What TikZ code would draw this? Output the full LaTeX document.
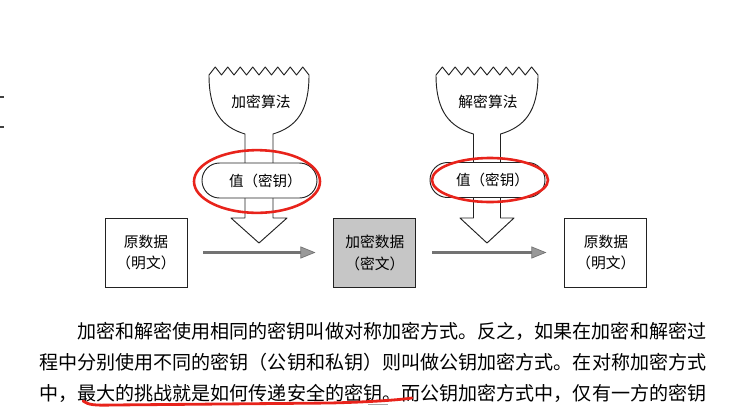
\documentclass[tikz,border=0pt]{standalone}
\usepackage{fontspec}
\setmainfont{Noto Sans CJK SC}
\usepackage{xcolor}
\usepackage{tikz}
\usetikzlibrary{shapes.misc, arrows.meta, positioning, calc}

\definecolor{inkline}{HTML}{222222}
\definecolor{penred}{HTML}{E8231B}

\tikzset{
  funnel/.style={draw=inkline, fill=white, line width=0.8pt, line join=round},
  databox/.style={draw=inkline, line width=0.8pt, minimum width=2.46cm, minimum height=2.07cm,
    align=center, inner sep=0pt, font=\fontsize{12.6pt}{18.7pt}\selectfont},
  pill/.style={rounded rectangle, draw=inkline, fill=white, line width=0.8pt,
    minimum width=3.45cm, minimum height=1.05cm, inner sep=0pt, font=\fontsize{12.4pt}{14pt}\selectfont},
  algolabel/.style={inner sep=0pt, font=\fontsize{12.6pt}{14pt}\selectfont},
  flowarrow/.style={draw=black!55, line width=3.2pt,
    -{Triangle[length=0.45cm,width=0.36cm,fill=black!40,line width=0.6pt]},
    shorten <=0.48cm, shorten >=0.54cm},
  redring/.style={draw=penred, line width=2.2pt},
  bodyline/.style={anchor=west, inner sep=0pt, font=\fontsize{16.27pt}{20pt}\selectfont},
  marginmark/.style={draw=black!75, line width=1.2pt}
}

\begin{document}
\begin{tikzpicture}[x=0.03cm, y=-0.03cm]
  \useasboundingbox (0,0) rectangle (755,410);

  % marks at the left margin
  \draw[marginmark] (0,97) -- (4,97);
  \draw[marginmark] (0,127) -- (4,127);

  % Encryption funnel
  \draw[funnel] (209,75) \foreach \i in {1,...,8}{ -- ++(6.25,-8) -- ++(6.25,8)}
    .. controls (309,112) and (296,127) .. (273,134) -- (273,218) -- (287,218)
    -- (259,243) -- (231,218) -- (245,218) -- (245,134)
    .. controls (222,127) and (209,112) .. (209,75) -- cycle;
  \node[algolabel] (algEnc) at (261,102) {加密算法};

  % Decryption funnel
  \draw[funnel] (436,75) \foreach \i in {1,...,8}{ -- ++(6.375,-8) -- ++(6.375,8)}
    .. controls (538,112) and (524,127) .. (500.5,134) -- (500.5,218) -- (514,218)
    -- (487,243) -- (460,218) -- (473.5,218) -- (473.5,134)
    .. controls (450,127) and (436,112) .. (436,75) -- cycle;
  \node[algolabel] (algDec) at (488,102) {解密算法};

  % Keys
  \node[pill] (keyEnc) at (259.5,180.5) {\hspace{0.35cm}值（密钥）};
  \node[pill] (keyDec) at (487.5,180) {\hspace{0.3cm}值（密钥）};

  % Red rings
  \draw[redring] ($(keyEnc)+(-2.5,1)$) ellipse [x radius=1.89cm, y radius=0.94cm];
  \draw[redring] ($(keyDec)+(2.5,0)$) ellipse [x radius=1.74cm, y radius=0.66cm];

  % Data boxes
  \node[databox] (plainL) at (146,252.5) {原数据\\（明文）};
  \node[databox, fill=gray!45, right=4.38cm of plainL] (cipher) {加密数据\\（密文）};
  \node[databox, right=4.44cm of cipher] (plainR) {原数据\\（明文）};

  % Flow arrows
  \draw[flowarrow] (plainL) -- (cipher);
  \draw[flowarrow] (cipher) -- (plainR);

  % Body text
  \node[bodyline] (line1) at (77,331) {加密和解密使用相同的密钥叫做对称加密方式。反之，如果在加密和解密过};
  \node[bodyline] (line2) at (39,362) {程中分别使用不同的密钥（公钥和私钥）则叫做公钥加密方式。在对称加密方式};
  \node[bodyline] (line3) at (39,393) {中，最大的挑战就是如何传递安全的密钥。而公钥加密方式中，仅有一方的密钥};

  % Underline
  \draw[draw=gray!70, line width=0.8pt] (368,404) -- (388,404);
  \draw[draw=penred, line width=2.4pt, line cap=round]
    (83,401) .. controls (88,405) and (96,405.5) .. (112,405) -- (330,403)
    .. controls (370,402) and (398,400) .. (412,398);
\end{tikzpicture}
\end{document}
